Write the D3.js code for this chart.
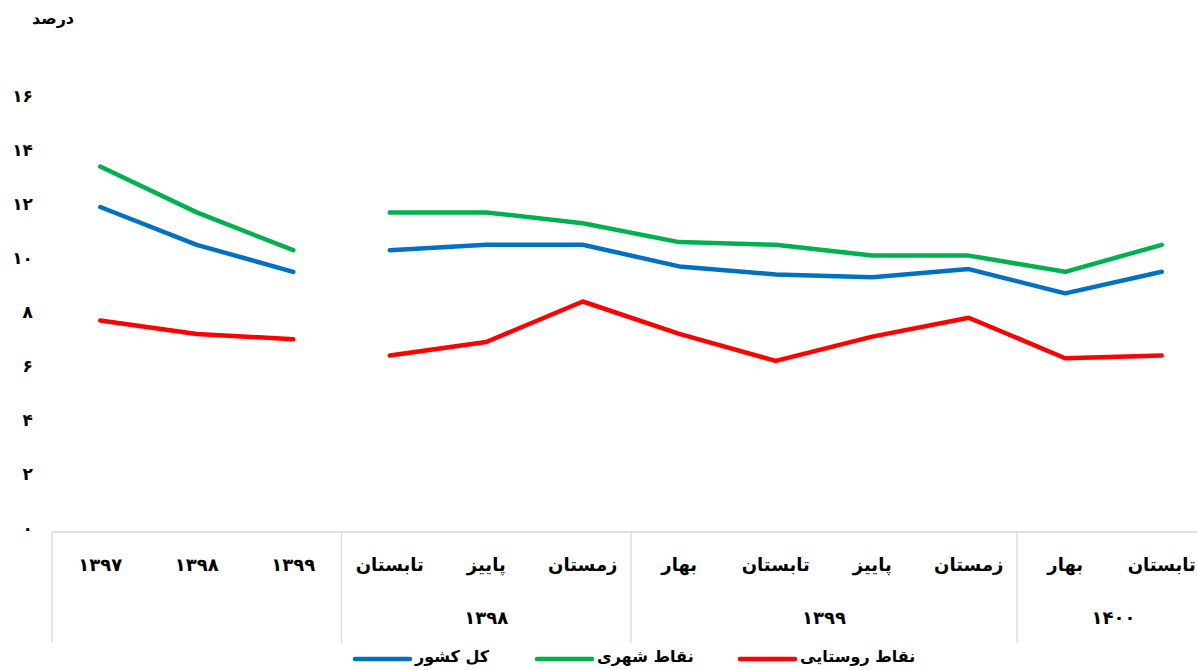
<!DOCTYPE html>
<html><head><meta charset="utf-8">
<script src="https://cdn.jsdelivr.net/npm/d3@7"></script>
<style>
html,body{margin:0;padding:0;background:#fff;overflow:hidden}
text{font-family:"DejaVu Sans",sans-serif;font-weight:bold;fill:#000}
</style></head>
<body><svg id="c" width="1197" height="670"></svg>
<script>
// ---- data ----
const categories = ['۱۳۹۷','۱۳۹۸','۱۳۹۹','تابستان','پاییز','زمستان','بهار','تابستان','پاییز','زمستان','بهار','تابستان'];
const periodKind = ['year','year','year','q','q','q','q','q','q','q','q','q'];
const groupLabels = ['', '۱۳۹۸', '۱۳۹۹', '۱۴۰۰'];
const groupSizes = [3, 3, 4, 2];
const yTicks = [0,2,4,6,8,10,12,14,16];
const yTickLabels = ['۰','۲','۴','۶','۸','۱۰','۱۲','۱۴','۱۶'];
const totalVals = [12.0, 10.6, 9.6, 10.4, 10.6, 10.6, 9.8, 9.5, 9.4, 9.7, 8.8, 9.6];
const urbanVals = [13.5, 11.8, 10.4, 11.8, 11.8, 11.4, 10.7, 10.6, 10.2, 10.2, 9.6, 10.6];
const ruralVals = [7.8, 7.3, 7.1, 6.5, 7.0, 8.5, 7.3, 6.3, 7.2, 7.9, 6.4, 6.5];
const seriesNames = ['کل کشور','نقاط شهری','نقاط روستایی'];
const seriesColors = ['#0070C0','#00B050','#FF0000'];
const yTitle = 'درصد';

const series = [totalVals, urbanVals, ruralVals];
const svg = d3.select('#c');
const idx = d3.range(categories.length);
const x = d3.scaleBand().domain(idx).range([52, 1210]).padding(0);
const y = d3.scaleLinear().domain([0,16]).range([531, 99]);
const xc = i => x(i) + x.bandwidth()/2;

// y labels
svg.append('g').selectAll('text').data(yTicks).join('text')
  .attr('x', 33).attr('y', d => y(d) - 2)
  .attr('text-anchor','end').attr('dominant-baseline','middle')
  .style('font-size','17px').text((d,i) => yTickLabels[i]);

// y title
svg.append('text').attr('x', 53).attr('y', 19).attr('text-anchor','middle')
  .attr('dominant-baseline','middle').style('font-size','16px').text(yTitle);

// category table
const axisTop = 532, axisBottom = 643;
const tbl = svg.append('g');
tbl.append('line').attr('x1', 52).attr('x2', 1210).attr('y1', axisTop).attr('y2', axisTop)
  .attr('stroke','#d9d9d9').attr('stroke-width',1.3);
let cum = 0;
const bounds = [0];
groupSizes.forEach(s => { cum += s; bounds.push(cum); });
bounds.forEach(b => {
  const bx = b < categories.length ? x(b) : 52 + x.bandwidth()*b;
  tbl.append('line').attr('x1', bx).attr('x2', bx).attr('y1', axisTop).attr('y2', axisBottom)
    .attr('stroke','#d9d9d9').attr('stroke-width',1.3);
});
tbl.selectAll('text.cat').data(idx).join('text').attr('class','cat')
  .attr('x', i => xc(i)).attr('y', 566).attr('text-anchor','middle')
  .attr('dominant-baseline','middle').attr('direction','rtl')
  .style('font-size','18px').text(i => categories[i]);
groupLabels.forEach((g, gi) => {
  if (!g) return;
  const a = bounds[gi], b = bounds[gi+1];
  const cx = (x(a) + 52 + x.bandwidth()*b) / 2;
  tbl.append('text').attr('x', cx).attr('y', 619).attr('text-anchor','middle')
    .attr('dominant-baseline','middle').style('font-size','18px').text(g);
});

// lines
const line = d3.line().x(d => xc(d.i)).y(d => y(d.v)).curve(d3.curveLinear);
series.forEach((vals, si) => {
  ['year','q'].forEach(k => {
    const pts = idx.filter(i => periodKind[i] === k).map(i => ({i, v: vals[i]}));
    svg.append('path').datum(pts).attr('d', line).attr('fill','none')
      .attr('stroke', seriesColors[si]).attr('stroke-width', 4.5)
      .attr('stroke-linecap','round').attr('stroke-linejoin','round');
  });
});

// legend
const legX = [355, 537, 740];
const leg = svg.append('g');
series.forEach((s, si) => {
  leg.append('line').attr('x1', legX[si]).attr('x2', legX[si] + 55)
    .attr('y1', 659).attr('y2', 659).attr('stroke', seriesColors[si])
    .attr('stroke-width', 4.5).attr('stroke-linecap','round');
  leg.append('text').attr('x', legX[si] + 60).attr('y', 657)
    .attr('text-anchor','start').attr('dominant-baseline','middle').attr('direction','ltr')
    .style('font-size','16px').text(seriesNames[si]);
});
</script></body></html>
